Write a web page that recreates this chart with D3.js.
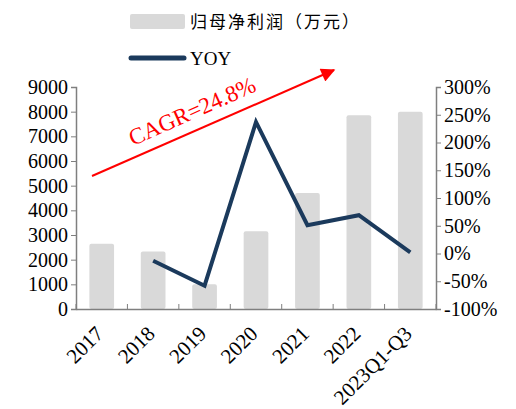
<!DOCTYPE html>
<html><head><meta charset="utf-8">
<script src="https://cdn.jsdelivr.net/npm/d3@7"></script>
<style>body{margin:0;background:#fff}svg{display:block}</style>
</head><body>
<svg id="c" width="516" height="409"></svg>
<script>
const categories = ["2017","2018","2019","2020","2021","2022","2023Q1-Q3"];
const profit = [2650, 2330, 1000, 3150, 4700, 7850, 8000];
const yoy = [null, -13, -58, 237, 51, 69, 2];
const leftTicks = [0,1000,2000,3000,4000,5000,6000,7000,8000,9000];
const rightTicks = [-100,-50,0,50,100,150,200,250,300];
const cagrLabel = "CAGR=24.8%";

const svg = d3.select("#c");
const m = {l:76, r:436, t:87, b:309};
const font = "'Liberation Serif','Times New Roman',serif";
const x = d3.scaleBand().domain(categories).range([m.l, m.r]).paddingInner(0.52).paddingOuter(0.26);
const xb = d3.scaleBand().domain(categories).range([m.l, m.r]);
const yL = d3.scaleLinear().domain([0,9000]).range([m.b, m.t]);
const yR = d3.scaleLinear().domain([-100,300]).range([m.b, m.t]);

// bars
svg.selectAll("rect.bar").data(categories).enter().append("rect")
  .attr("x", d=>x(d)).attr("width", x.bandwidth())
  .attr("y", (d,i)=>yL(profit[i])).attr("height", (d,i)=>m.b - yL(profit[i]))
  .attr("rx", 2).attr("fill", "#d9d9d9");

// axes
const axColor = "#7f7f7f";
const gL = svg.append("g").attr("transform",`translate(${m.l},0)`)
  .call(d3.axisLeft(yL).tickValues(leftTicks).tickSize(5).tickPadding(3).tickFormat(d3.format("d")));
const gR = svg.append("g").attr("transform",`translate(${m.r},0)`)
  .call(d3.axisRight(yR).tickValues(rightTicks).tickSize(5).tickPadding(3).tickFormat(d=>d+"%"));
const gB = svg.append("g").attr("transform",`translate(0,${m.b})`)
  .call(d3.axisBottom(xb).tickSize(0).tickFormat(d=>d));
[gL,gR,gB].forEach(g=>{
  g.selectAll("path.domain").attr("stroke", axColor).attr("stroke-width",1.5);
  g.selectAll(".tick line").attr("stroke", axColor);
  g.selectAll("text").attr("font-family", font).attr("font-size", 20).attr("fill","#000");
});
// boundary ticks on bottom axis (pointing up)
const bounds = categories.map(c=>xb(c)).concat([m.r]);
svg.append("g").selectAll("line").data(bounds).enter().append("line")
  .attr("x1",d=>d).attr("x2",d=>d).attr("y1",m.b).attr("y2",m.b-5)
  .attr("stroke",axColor).attr("stroke-width",1);
gB.selectAll(".tick text")
  .attr("font-size",21)
  .attr("text-anchor","end").attr("dy",null)
  .attr("transform", "translate(3,26) rotate(-45)")
  .attr("y",0).attr("x",0);

// YOY line
const line = d3.line().defined(d=>d.v!==null).x(d=>xb(d.c)+xb.bandwidth()/2).y(d=>yR(d.v));
svg.append("path").datum(categories.map((c,i)=>({c, v:yoy[i]})))
  .attr("d", line).attr("fill","none").attr("stroke","#1b3a5c").attr("stroke-width",4)
  .attr("stroke-linejoin","miter");

// CAGR arrow
const defs = svg.append("defs");
defs.append("marker").attr("id","ah").attr("viewBox","0 0 10 10").attr("refX",9).attr("refY",5)
  .attr("orient","auto").attr("markerUnits","userSpaceOnUse")
  .attr("markerWidth",16).attr("markerHeight",14)
  .append("path").attr("d","M0,0 L10,5 L0,10 z").attr("fill","#ff0000");
svg.append("line").attr("x1",92).attr("y1",176).attr("x2",334).attr("y2",70)
  .attr("stroke","#ff0000").attr("stroke-width",2).attr("marker-end","url(#ah)");
svg.append("text").attr("transform","translate(133,146) rotate(-24)")
  .attr("font-family",font).attr("font-size",23).attr("fill","#ff0000").text(cagrLabel);

// legend
svg.append("rect").attr("x",130).attr("y",14).attr("width",55).attr("height",15).attr("rx",2).attr("fill","#d9d9d9");
svg.append("text").attr("x",190).attr("y",28).attr("font-family","'Noto Sans CJK SC',serif")
  .attr("font-size",17).attr("letter-spacing",2).attr("fill","#000").text("归母净利润（万元）");
svg.append("line").attr("x1",131).attr("x2",184).attr("y1",58).attr("y2",58)
  .attr("stroke","#1b3a5c").attr("stroke-width",5).attr("stroke-linecap","round");
svg.append("text").attr("x",190).attr("y",65).attr("font-family",font)
  .attr("font-size",19).attr("fill","#000").text("YOY");
</script>
</body></html>
